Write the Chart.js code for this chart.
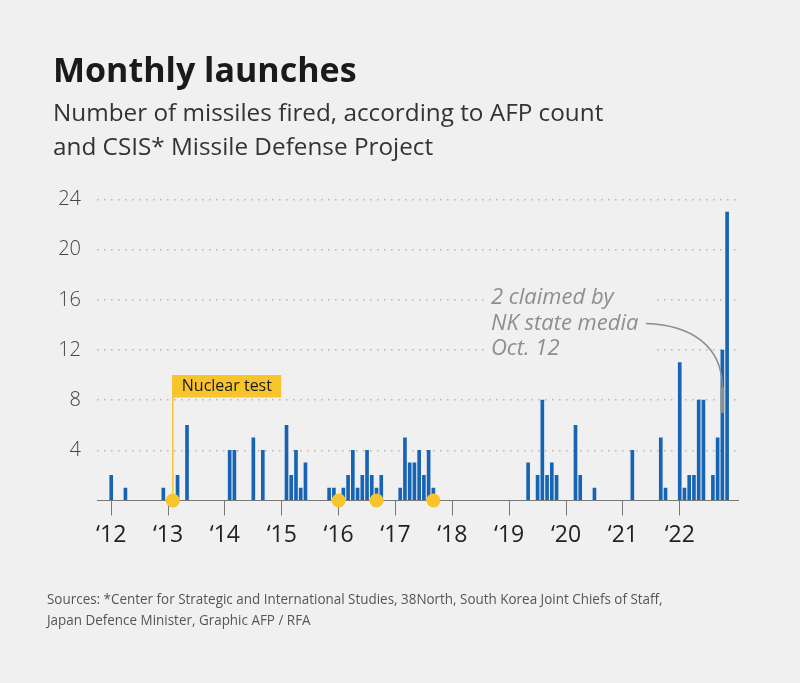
<!DOCTYPE html>
<html>
<head>
<meta charset="utf-8">
<script src="https://cdn.jsdelivr.net/npm/chart.js@4.4.1/dist/chart.umd.min.js"></script>
<style>
html,body{margin:0;padding:0;background:#f0f0f0;}
#wrap{position:relative;width:800px;height:683px;overflow:hidden;font-family:"Open Sans","Noto Sans",sans-serif;background:#f0f0f0;}
#c{position:absolute;left:0;top:0;}
.t{position:absolute;white-space:nowrap;margin:0;}
#title{left:53px;top:52px;font-size:34px;line-height:34px;font-weight:700;color:#1a1a1a;}
#sub{left:53px;top:94.5px;font-size:24.3px;line-height:34px;font-weight:400;color:#333;}
#src{left:47px;top:588px;font-size:15px;line-height:21px;color:#555;font-stretch:normal;transform:scaleX(0.896);transform-origin:0 0;}
</style>
</head>
<body>
<div id="wrap">
<canvas id="c" width="800" height="683"></canvas>
<div class="t" id="title">Monthly launches</div>
<div class="t" id="sub">Number of missiles fired, according to AFP count<br>and CSIS* Missile Defense Project</div>
<div class="t" id="src">Sources: *Center for Strategic and International Studies, 38North, South Korea Joint Chiefs of Staff,<br>Japan Defence Minister, Graphic AFP / RFA</div>
</div>
<script>
// ---- data ----
const yearLabels = ['‘12','‘13','‘14','‘15','‘16','‘17','‘18','‘19','‘20','‘21','‘22'];
const launchMonths = ['2012-01','2012-04','2012-12','2013-03','2013-05','2014-02','2014-03','2014-07','2014-09',
  '2015-02','2015-03','2015-04','2015-05','2015-06','2015-11','2015-12',
  '2016-02','2016-03','2016-04','2016-05','2016-06','2016-07','2016-08','2016-09','2016-10',
  '2017-02','2017-03','2017-04','2017-05','2017-06','2017-07','2017-08','2017-09',
  '2019-05','2019-07','2019-08','2019-09','2019-10','2019-11','2020-03','2020-04','2020-07',
  '2021-03','2021-09','2021-10',
  '2022-01','2022-02','2022-03','2022-04','2022-05','2022-06','2022-08','2022-09','2022-10','2022-11'];
const missilesFired = [2,1,1,2,6,4,4,5,4,
  6,2,4,1,3,1,1,
  1,2,4,1,2,4,2,1,2,
  1,5,3,3,4,2,4,1,
  3,2,8,2,3,2,6,2,1,
  4,5,1,
  11,1,2,2,8,8,2,5,12,23];
const claimedMonths = ['2022-10'];
const claimedFrom = [7];
const claimedCount = [2];
const nuclearTests = ['2013-02','2016-01','2016-09','2017-09'];
const nuclearLabel = 'Nuclear test';
const claimedNote = ['2 claimed by','NK state media','Oct. 12'];

// ---- helpers ----
const mIdx = s => { const [y,m] = s.split('-').map(Number); return (y-2012)*12 + (m-1); };
const BG = '#f0f0f0', BLUE = '#1764b4', GREY = '#8e8e8e', YEL = '#f8c42c';
const FONT = '"Open Sans","Noto Sans",sans-serif';

const annot = {
  id: 'annot',
  beforeDatasetsDraw(chart) {
    const {ctx, scales:{x,y}} = chart;
    ctx.save();
    ctx.fillStyle = BG;
    ctx.fillRect(484, 288, 173, 74);
    ctx.fillRect(657, 320, 82, 10);
    const lx = x.getPixelForValue(mIdx(nuclearTests[0]));
    ctx.strokeStyle = YEL; ctx.lineWidth = 1.5;
    ctx.beginPath(); ctx.moveTo(lx, 390); ctx.lineTo(lx, y.getPixelForValue(0)); ctx.stroke();
    ctx.restore();
  },
  afterDatasetsDraw(chart) {
    const {ctx, scales:{x,y}} = chart;
    ctx.save();
    const lx = x.getPixelForValue(mIdx(nuclearTests[0]));
    ctx.font = '16px ' + FONT;
    const tw = ctx.measureText(nuclearLabel).width;
    ctx.fillStyle = YEL;
    ctx.fillRect(lx - 0.75, 375, tw + 19, 22.5);
    ctx.fillStyle = '#1a1a1a';
    ctx.textBaseline = 'middle';
    ctx.fillText(nuclearLabel, lx + 9, 386.5);
    ctx.font = 'italic 22px ' + FONT;
    ctx.fillStyle = GREY;
    ctx.textBaseline = 'alphabetic';
    claimedNote.forEach((s,i) => ctx.fillText(s, 491, 304 + i*25.5));
    const ex = x.getPixelForValue(mIdx(claimedMonths[0]));
    const ey = y.getPixelForValue(claimedFrom[0] + claimedCount[0]);
    ctx.strokeStyle = '#8a8a8a'; ctx.lineWidth = 1.5;
    ctx.beginPath();
    ctx.moveTo(646, 323.5);
    ctx.bezierCurveTo(690, 325, ex, 345, ex, ey);
    ctx.stroke();
    ctx.restore();
  }
};

const barData = launchMonths.map((m,i) => ({x: mIdx(m), y: missilesFired[i]}));
const claimData = claimedMonths.map((m,i) => ({x: mIdx(m), y: [claimedFrom[i], claimedFrom[i] + claimedCount[i]]}));
const nukeData = nuclearTests.map(m => ({x: mIdx(m), y: 0}));

new Chart(document.getElementById('c'), {
  type: 'bar',
  data: {
    datasets: [
      {data: barData, backgroundColor: BLUE, barThickness: 3, grouped: false, borderWidth: 0, order: 2},
      {data: claimData, backgroundColor: GREY, barThickness: 3, grouped: false, borderWidth: 0, order: 1},
      {type: 'line', data: nukeData, showLine: false, pointRadius: 7, pointHoverRadius: 7,
       pointBackgroundColor: YEL, pointBorderWidth: 0, borderWidth: 0, clip: false, order: 0}
    ]
  },
  options: {
    responsive: false,
    animation: false,
    events: [],
    layout: {padding: {left: 0, right: 62, top: 199.5, bottom: 122.5}},
    plugins: {legend: {display: false}, tooltip: {enabled: false}},
    scales: {
      x: {
        type: 'linear', min: -3.0, max: 132.3, offset: false,
        afterBuildTicks: s => { s.ticks = yearLabels.map((_, i) => ({value: i*12})); },
        afterFit: s => { s.height = 60; },
        ticks: {autoSkip: false, maxRotation: 0, padding: 6, color: '#222',
                font: {family: FONT, size: 23},
                callback: (v, i) => yearLabels[i]},
        grid: {drawOnChartArea: false, drawTicks: true, tickLength: 15, color: '#777', lineWidth: 1, offset: false},
        border: {display: true, color: '#777', width: 1}
      },
      y: {
        min: 0, max: 24,
        afterFit: s => { s.width = 97; },
        ticks: {stepSize: 2, padding: 16, color: '#444',
                font: {family: FONT, size: 20, weight: 300},
                callback: v => (v > 0 && v % 4 === 0) ? String(v) : ''},
        grid: {drawTicks: false, lineWidth: 1.5,
               color: c => c.tick && c.tick.value === 0 ? 'rgba(0,0,0,0)' : '#b4b4b4'},
        border: {display: false, dash: [1.5, 5.5]}
      }
    }
  },
  plugins: [annot]
});
</script>
</body>
</html>
